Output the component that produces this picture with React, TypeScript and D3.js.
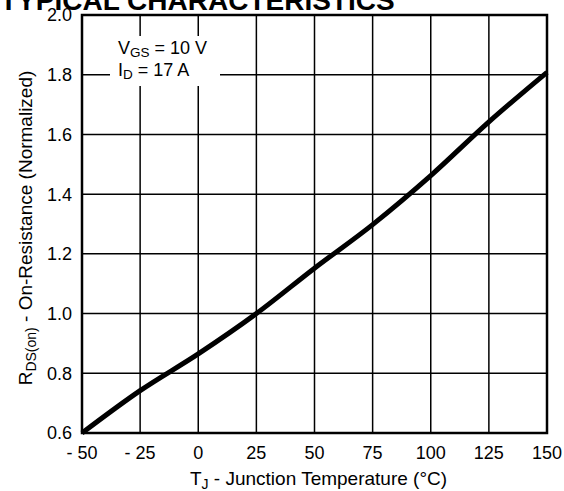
import React from 'react'
import { scaleLinear, line, curveMonotoneX } from 'd3'

const temps = [-50, -25, 0, 25, 50, 75, 100, 125, 150]
const rdson = [0.6, 0.742, 0.865, 1.0, 1.152, 1.298, 1.462, 1.642, 1.808]
const xTicks = [-50, -25, 0, 25, 50, 75, 100, 125, 150]
const yTicks = [0.6, 0.8, 1.0, 1.2, 1.4, 1.6, 1.8, 2.0]

const W = 564
const H = 491
const left = 82
const right = 547
const top = 15
const bottom = 433
const font = '"Liberation Sans", Arial, Helvetica, sans-serif'

const App = () => {
  const x = scaleLinear().domain([-50, 150]).range([left, right])
  const y = scaleLinear().domain([0.6, 2.0]).range([bottom, top])

  const pts = temps.map((t, i) => [t, rdson[i]] as [number, number])
  const path = line<[number, number]>()
    .x(d => x(d[0]))
    .y(d => y(d[1]))
    .curve(curveMonotoneX)(pts)

  const fmtX = (v: number) => (v < 0 ? `- ${Math.abs(v)}` : `${v}`)

  return (
    <svg width={W} height={H} viewBox={`0 0 ${W} ${H}`}
      style={{ position: 'absolute', left: 0, top: 0, background: '#fff' }}
      fontFamily={font}>
      <text x={0} y={10} fontSize={28} fontWeight='bold' fill='#000'>TYPICAL CHARACTERISTICS</text>

      {xTicks.map(t => (
        <line key={'gx' + t} x1={x(t)} x2={x(t)} y1={top} y2={bottom} stroke='#000' strokeWidth={1.5} />
      ))}
      {yTicks.map(t => (
        <line key={'gy' + t} x1={left} x2={right} y1={y(t)} y2={y(t)} stroke='#000' strokeWidth={1.5} />
      ))}

      {/* legend box hides the grid */}
      <rect x={110} y={36} width={110} height={50} fill='#fff' />
      <text x={118} y={54} fontSize={18}>
        V<tspan fontSize={13.5} dy={3}>GS</tspan><tspan dy={-3}> = 10 V</tspan>
      </text>
      <text x={118} y={76} fontSize={18}>
        I<tspan fontSize={13.5} dy={3}>D</tspan><tspan dy={-3}> = 17 A</tspan>
      </text>

      <rect x={left} y={top} width={right - left} height={bottom - top} fill='none' stroke='#000' strokeWidth={2.5} />

      <path d={path || ''} fill='none' stroke='#000' strokeWidth={5} />

      {yTicks.map(t => (
        <text key={'ty' + t} x={left - 10} y={y(t)} dy='0.36em' textAnchor='end' fontSize={18}>
          {t.toFixed(1)}
        </text>
      ))}
      {xTicks.map(t => (
        <text key={'tx' + t} x={x(t)} y={459} textAnchor='middle' fontSize={18}>
          {fmtX(t)}
        </text>
      ))}

      <text x={(left + right) / 2 + 4} y={485} textAnchor='middle' fontSize={19}>
        T<tspan fontSize={14} dy={4}>J</tspan><tspan dy={-4}> - Junction Temperature (°C)</tspan>
      </text>
      <text transform={`translate(32, ${(top + bottom) / 2 + 4}) rotate(-90)`} textAnchor='middle' fontSize={19}>
        R<tspan fontSize={14} dy={4}>DS(on)</tspan><tspan dy={-4}> - On-Resistance (Normalized)</tspan>
      </text>
    </svg>
  )
}

export default App
